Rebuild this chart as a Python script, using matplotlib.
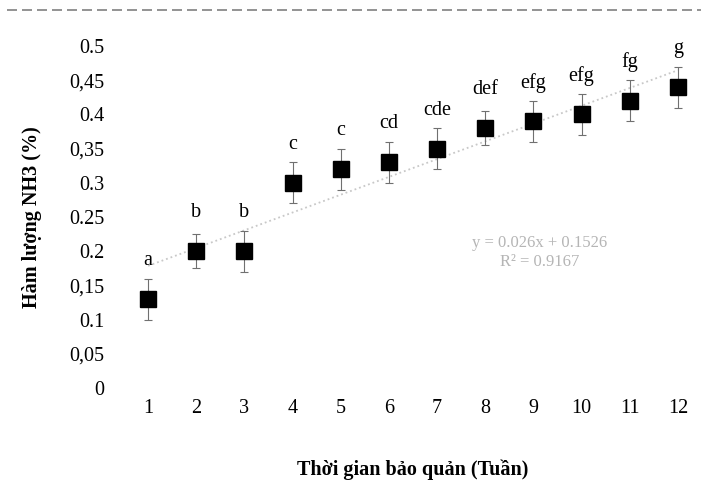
import numpy as np
import matplotlib.pyplot as plt
from matplotlib.lines import Line2D

plt.rcParams['font.family'] = ['Liberation Serif', 'DejaVu Serif']

weeks = [1, 2, 3, 4, 5, 6, 7, 8, 9, 10, 11, 12]
nh3 = [0.13, 0.20, 0.20, 0.30, 0.32, 0.33, 0.35, 0.38, 0.39, 0.40, 0.42, 0.44]
err = [0.03, 0.025, 0.03, 0.03, 0.03, 0.03, 0.03, 0.025, 0.03, 0.03, 0.03, 0.03]
letters = ['a', 'b', 'b', 'c', 'c', 'cd', 'cde', 'def', 'efg', 'efg', 'fg', 'g']
yticks = [0, 0.05, 0.1, 0.15, 0.2, 0.25, 0.3, 0.35, 0.4, 0.45, 0.5]
yticklabels = ['0', '0,05', '0.1', '0,15', '0.2', '0.25', '0.3', '0,35', '0.4', '0,45', '0.5']
slope = 0.026
intercept = 0.1526
r2 = 0.9167

fig = plt.figure(figsize=(7.05, 4.91), dpi=100)
ax = fig.add_axes([124 / 705, 103 / 491, 578 / 705, 342 / 491])

# trend line
xs = np.array([weeks[0], weeks[-1]])
ax.plot(xs, slope * xs + intercept, color='#c8c8c8', linestyle=':', linewidth=1.3, zorder=1)

# points with error bars
ax.errorbar(weeks, nh3, yerr=err, fmt='s', color='black', markersize=11,
            ecolor='#707070', elinewidth=0.8, capsize=3, capthick=0.8, zorder=3)

for x, y, lab in zip(weeks, nh3, letters):
    ax.text(x, y + 0.056, lab, ha='center', va='center', fontsize=14.5)

ax.text(540 / 705, 1 - 243 / 491, 'y = 0.026x + 0.1526', transform=fig.transFigure,
        ha='center', va='center', fontsize=12, color='#b5b5b5')
ax.text(540 / 705, 1 - 262 / 491, 'R² = 0.9167', transform=fig.transFigure,
        ha='center', va='center', fontsize=12, color='#b5b5b5')

ax.set_xlim(0.5, 12.5)
ax.set_ylim(0, 0.5)
ax.set_xticks(weeks)
ax.set_xticklabels([str(w) for w in weeks])
ax.set_yticks(yticks)
ax.set_yticklabels(yticklabels)
ax.tick_params(axis='both', length=0, labelsize=14.5)
ax.tick_params(axis='y', pad=14)
ax.tick_params(axis='x', pad=8)
for s in ax.spines.values():
    s.set_visible(False)

ax.set_ylabel('Hàm lượng NH3 (%)', fontsize=14.5, fontweight='bold', labelpad=20)
ax.set_xlabel('Thời gian bảo quản (Tuần)', fontsize=14.5, fontweight='bold', labelpad=30)

# dashed line at the top of the page
fig.add_artist(Line2D([0.01, 0.995], [481 / 491, 481 / 491], transform=fig.transFigure,
                      color='#808080', linestyle=(0, (6, 3)), linewidth=1.2))

plt.savefig('out.png', dpi=100)
